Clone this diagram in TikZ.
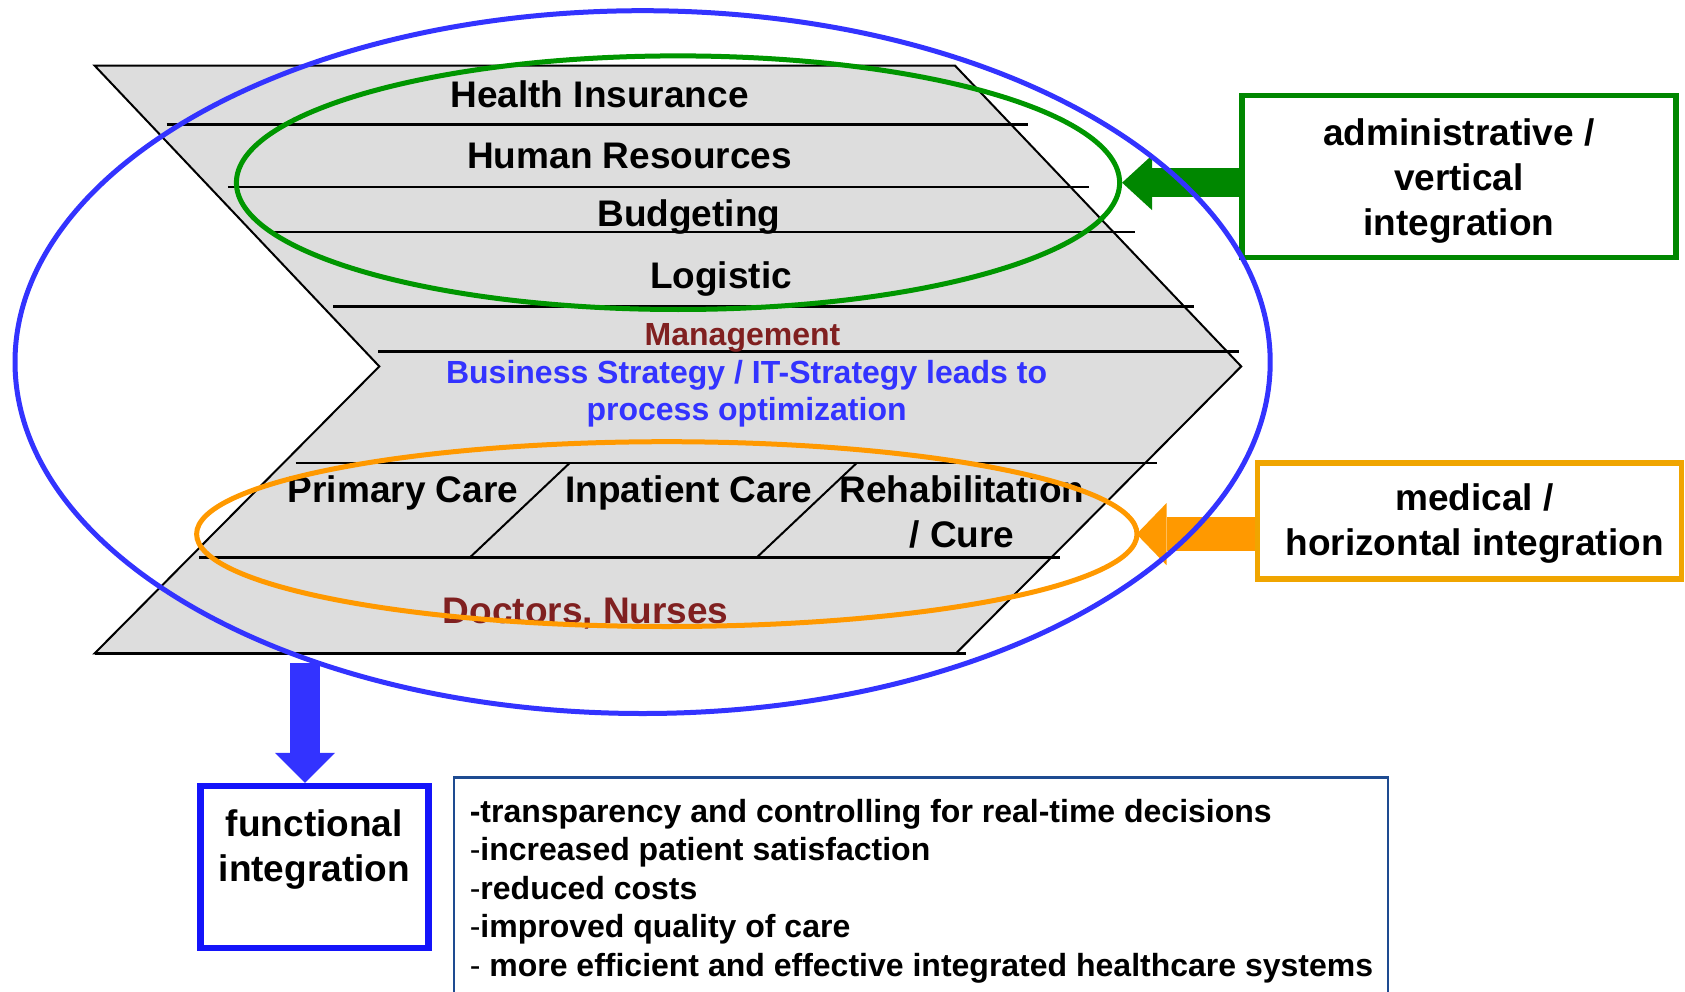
\documentclass[tikz,border=0pt]{standalone}
\usepackage{fontspec}
\setmainfont{Liberation Sans}
\usetikzlibrary{shapes.geometric,arrows.meta,positioning}

\definecolor{chevgray}{RGB}{221,221,221}
\definecolor{ringblue}{RGB}{51,51,255}
\definecolor{boxblue}{RGB}{20,20,250}
\definecolor{ringgreen}{RGB}{0,150,0}
\definecolor{boxgreen}{RGB}{0,135,0}
\definecolor{ringorange}{RGB}{255,153,0}
\definecolor{boxorange}{RGB}{240,165,0}
\definecolor{mgmtred}{RGB}{128,32,32}
\definecolor{benblue}{RGB}{30,75,145}

\tikzset{
 layer/.style={font=\fontsize{37}{45}\selectfont\bfseries, inner sep=0pt},
 thinlayer/.style={font=\fontsize{32}{37}\selectfont\bfseries, inner sep=0pt},
 ring/.style={ellipse, draw, line width=5pt, inner sep=0pt},
 fattip/.style={-{Triangle[length=30pt,width=#1,line width=0pt]}},
}

\begin{document}
\begin{tikzpicture}[x=1pt,y=-1pt]
\useasboundingbox (0,0) rectangle (1685,992);
% chevron
 \coordinate (TL) at (94.6,65.6);
 \coordinate (TR) at (955,65.6);
 \coordinate (Tip) at (1241.2,366.4);
 \coordinate (BR) at (956,653.4);
 \coordinate (BL) at (94.6,653.4);
 \coordinate (Notch) at (379.3,366.4);
 \draw[fill=chevgray,line width=2pt] (TL) -- (TR) -- (Tip) -- (BR) -- (BL) -- (Notch) -- cycle;
 \foreach \x/\y in {166.6/124.7,227.8/187,274/232.1,333.1/306.3,378.3/351.4,295.5/463.2,198.8/557.7}
  \draw[line width=2.5pt] (\x,\y) -- ++(861,0);
 \draw[line width=2.5pt] (BL) -- (966,653.4);
 \draw[line width=2pt] (569.5,463.2) -- (469.6,557.7);
 \draw[line width=2pt] (856.5,463.2) -- (756.5,557.7);

 \node[layer,anchor=base] (health) at (599.6,108) {Health Insurance};
 \node[layer,anchor=base] (human) at (629.7,168.8) {Human Resources};
 \node[layer,anchor=base] (budget) at (688.8,226.5) {Budgeting};
 \node[layer,anchor=base] (logist) at (721,288) {Logistic};
 \node[thinlayer,anchor=base,text=mgmtred] (mgmt) at (742.5,345.5) {Management};
 \node[thinlayer,align=center,text=ringblue] (strat) at (746.6,393.7)
  {Business Strategy / IT-Strategy leads to\\process optimization};
 \node[layer,anchor=base] (primary) at (403,502) {Primary Care};
 \node[layer,anchor=base] (inpat) at (688.8,502) {Inpatient Care};
 \node[layer,align=center] (rehab) at (962,512) {Rehabilitation\\/ Cure};
 \node[layer,anchor=base,text=mgmtred] (doctors) at (585.7,623) {Doctors, Nurses};

% rings
 \node[ring,draw=ringgreen,minimum width=883.2pt,minimum height=253.6pt] (admring) at (678,182.7) {};
 \node[ring,draw=ringorange,minimum width=940.4pt,minimum height=184.8pt] (medring) at (666.8,534.1) {};

% boxes
 \node[draw=boxgreen,line width=5.5pt,minimum width=434pt,minimum height=162pt] (adm) at (1458.8,176.3) {};
 \node[layer,align=center] (admtxt) at ([yshift=-5pt]adm.center) {administrative /\\vertical\\integration};
 \node[draw=boxorange,line width=5.5pt,minimum width=424pt,minimum height=116pt] (med) at (1469.5,521.2) {};
 \node[layer,align=center] (medtxt) at ([xshift=5pt,yshift=-2pt]med.center) {medical /\\horizontal integration};
 \node[draw=boxblue,line width=6.5pt,minimum width=228pt,minimum height=162pt] (func) at (314.3,867) {};
 \node[layer,align=center] (functxt) at ([yshift=17pt]func.center) {functional\\integration};
 \node[draw=benblue,line width=2.5pt,minimum width=934pt,minimum height=240pt,anchor=north west,inner sep=0pt]
  (benefits) at (452.8,776) {};
 \node[thinlayer,align=left,anchor=north west,font=\fontsize{32}{38.5}\selectfont\bfseries,
  below right=23pt and 16.8pt of benefits.north west] (benlist)
  {-transparency and controlling for real-time decisions\\
   {\mdseries -}increased patient satisfaction\\
   {\mdseries -}reduced costs\\
   {\mdseries -}improved quality of care\\
   {\mdseries -} more efficient and effective integrated healthcare systems};

% arrows
 \coordinate (fstart) at (305,663);
 \draw[boxgreen,line width=29pt,fattip=55pt] (adm.west |- admring.east) -- (admring.east);
 \draw[ringorange,line width=34pt,fattip=62pt] (med.west |- medring.east) -- ([xshift=-3pt]medring.east);
 \draw[ringblue,line width=30pt,fattip=60pt] (fstart) -- (fstart |- func.north);

 \node[ring,draw=ringblue,minimum width=1255.2pt,minimum height=702.8pt] (funcring) at (642.6,362.1) {};
\end{tikzpicture}
\end{document}
